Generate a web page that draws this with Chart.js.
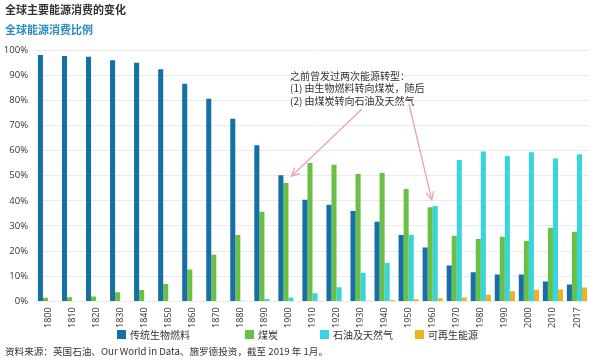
<!DOCTYPE html>
<html><head><meta charset="utf-8">
<script src="https://cdn.jsdelivr.net/npm/chart.js@4/dist/chart.umd.min.js"></script>
<style>html,body{margin:0;padding:0;background:#fff}#wrap{width:600px;height:360px;position:relative}</style>
</head><body><div id="wrap"><canvas id="c" width="600" height="360"></canvas></div>
<script>
const categories = ['1800','1810','1820','1830','1840','1850','1860','1870','1880','1890','1900','1910','1920','1930','1940','1950','1960','1970','1980','1990','2000','2010','2017'];
const biomass   = [98.0,97.6,97.3,95.9,94.9,92.3,86.6,80.6,72.7,62.1,50.2,40.4,38.4,36.0,31.7,26.4,21.4,14.3,11.6,10.7,10.7,7.9,6.7];
const coal      = [1.5,1.7,2.0,3.6,4.5,6.9,12.7,18.6,26.4,35.7,47.1,55.1,54.4,50.7,51.1,44.7,37.5,26.1,24.8,25.7,24.0,29.3,27.7];
const oilGas    = [0,0,0,0,0,0,0,0,0.3,1.0,1.6,3.2,5.6,11.4,15.3,26.4,38.0,56.2,59.6,57.8,59.3,56.8,58.5];
const renewable = [0,0,0,0,0,0,0,0,0,0,0,0.1,0.2,0.3,0.6,0.9,1.3,1.6,2.7,4.0,4.6,4.7,5.5];
const seriesNames = ['传统生物燃料','煤炭','石油及天然气','可再生能源'];
const yTicks = [0,10,20,30,40,50,60,70,80,90,100];
const title = '全球主要能源消费的变化';
const subtitle = '全球能源消费比例';
const note = ['之前曾发过两次能源转型：','(1) 由生物燃料转向煤炭，随后','(2) 由煤炭转向石油及天然气'];
const source = '资料来源：英国石油、Our World in Data、施罗德投资，截至 2019 年 1月。';

const colors = ['#1570a6','#6abf45','#36d5df','#efb021'];
const CJK = '"Noto Sans CJK SC", "Noto Sans", sans-serif';

function arrow(ctx, x1, y1, x2, y2) {
  ctx.beginPath(); ctx.moveTo(x1, y1); ctx.lineTo(x2, y2); ctx.stroke();
  const a = Math.atan2(y2 - y1, x2 - x1), L = 9;
  ctx.beginPath();
  ctx.moveTo(x2 - L * Math.cos(a - 0.45), y2 - L * Math.sin(a - 0.45));
  ctx.lineTo(x2, y2);
  ctx.lineTo(x2 - L * Math.cos(a + 0.45), y2 - L * Math.sin(a + 0.45));
  ctx.stroke();
}

const decor = {
  id: 'decor',
  afterDraw(chart) {
    const ctx = chart.ctx, xs = chart.scales.x, ys = chart.scales.y;
    ctx.save();
    ctx.textBaseline = 'middle'; ctx.textAlign = 'left';
    ctx.font = 'bold 11px ' + CJK; ctx.fillStyle = '#333';
    ctx.fillText(title, 5, 10);
    ctx.fillStyle = '#2a8cc3';
    ctx.fillText(subtitle, 5, 30);
    ctx.font = '10px ' + CJK; ctx.fillStyle = '#333';
    note.forEach((t, i) => ctx.fillText(t, 290, 76 + i * 12.5));
    ctx.font = '9.6px ' + CJK;
    ctx.fillText(source, 5, 351);
    ctx.font = '10px ' + CJK;
    // legend
    const lx = [117, 245, 320, 415];
    seriesNames.forEach((n, i) => {
      ctx.fillStyle = colors[i]; ctx.fillRect(lx[i], 330, 9, 9);
      ctx.fillStyle = '#333'; ctx.fillText(n, lx[i] + 13, 335);
    });
    // arrows
    ctx.strokeStyle = '#e6a3b4'; ctx.lineWidth = 1.3;
    const i1 = categories.indexOf('1900'), i2 = categories.indexOf('1960');
    arrow(ctx, 362, 109, xs.getPixelForValue(i1) + 3, ys.getPixelForValue(biomass[i1]) + 1);
    arrow(ctx, 409, 104, xs.getPixelForValue(i2) - 1, ys.getPixelForValue(oilGas[i2]) - 6);
    ctx.restore();
  }
};

new Chart(document.getElementById('c'), {
  type: 'bar',
  data: {
    labels: categories,
    datasets: [biomass, coal, oilGas, renewable].map((d, i) => ({
      label: seriesNames[i], data: d, backgroundColor: colors[i], borderWidth: 0,
      categoryPercentage: 0.84, barPercentage: 1.0
    }))
  },
  options: {
    responsive: false, animation: false,
    layout: { padding: { left: 4, right: 11, top: 50, bottom: 26 } },
    plugins: { legend: { display: false }, tooltip: { enabled: false } },
    scales: {
      x: {
        grid: { display: false, drawTicks: false }, border: { display: false },
        ticks: { minRotation: 90, maxRotation: 90, autoSkip: false, padding: 6, color: '#333', font: { family: '"Open Sans", sans-serif', size: 9 } }
      },
      y: {
        min: 0, max: 100,
        afterBuildTicks(s) { s.ticks = yTicks.map(v => ({ value: v })); },
        grid: { color: '#ebebeb', lineWidth: 1, drawTicks: false }, border: { display: false },
        ticks: { callback: v => v + '%', padding: 8, color: '#333', font: { family: '"Open Sans", sans-serif', size: 9.5 } },
        afterFit(s) { s.width = 32; }
      }
    }
  },
  plugins: [decor]
});
</script></body></html>
